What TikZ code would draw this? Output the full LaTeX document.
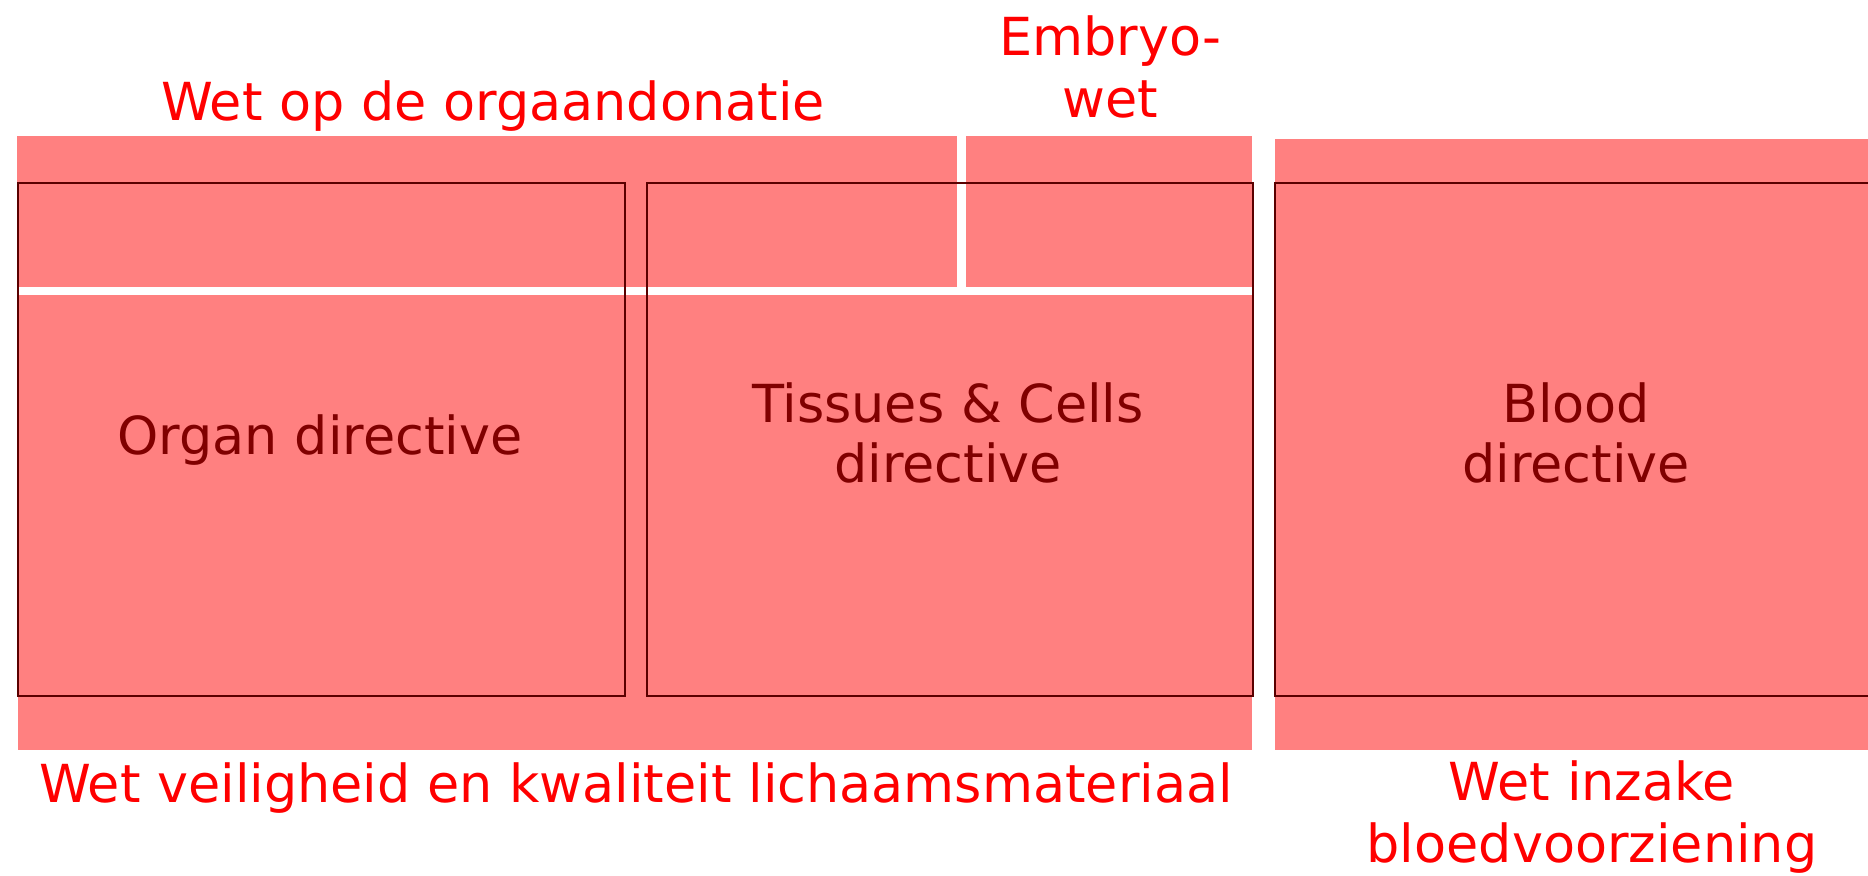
\documentclass[tikz,border=0pt]{standalone}
\usepackage{fontspec}
\setmainfont{DejaVu Sans}
\definecolor{bandpink}{RGB}{255,128,128}
\definecolor{lawred}{RGB}{255,0,0}
\definecolor{dirred}{RGB}{128,0,0}
\definecolor{edgered}{RGB}{90,0,0}
\tikzset{
  band/.style={fill=bandpink, draw=none},
  dirbox/.style={draw=edgered, line width=1.2pt},
  lawlabel/.style={text=lawred, font=\fontsize{26.2}{31}\selectfont, align=center, inner sep=0pt},
  dirlabel/.style={text=dirred, font=\fontsize{26.2}{30}\selectfont, align=center, inner sep=0pt}
}
\begin{document}
\begin{tikzpicture}[x=0.5pt,y=-0.5pt]
\useasboundingbox (0,0) rectangle (1868,875);
\clip (0,0) rectangle (1868,875);
% law bands
\fill[band] (17,136) rectangle (957,287);
\fill[band] (966,136) rectangle (1252,287);
\fill[band] (18,295) rectangle (1252,750);
\fill[band] (1275,139) rectangle (1868,750);
% directive boxes
\node[dirbox, anchor=north west, minimum width=303.5pt, minimum height=256.5pt, inner sep=0pt] (organ) at (17,182) {};
\node[dirbox, anchor=north west, minimum width=303pt, minimum height=256.5pt, inner sep=0pt] (tissues) at (646,182) {};
\node[dirbox, anchor=north west, minimum width=303pt, minimum height=256.5pt, inner sep=0pt] (blood) at (1274,182) {};
% directive labels
\node[dirlabel, anchor=base] (organlbl) at (320,454) {Organ directive};
\node[dirlabel] (tissueslbl) at (948,433) {Tissues \& Cells\\directive};
\node[dirlabel] (bloodlbl) at (1576,433) {Blood\\directive};
% law labels
\node[lawlabel, anchor=base] (orglaw) at (493,120) {Wet op de orgaandonatie};
\node[lawlabel] (embrlaw) at (1110,67) {Embryo-\\wet};
\node[lawlabel, anchor=base] (wvklaw) at (636,802) {Wet veiligheid en kwaliteit lichaamsmateriaal};
\node[lawlabel] (bloodlaw) at (1592,817) {Wet inzake\\bloedvoorziening};
\end{tikzpicture}
\end{document}
